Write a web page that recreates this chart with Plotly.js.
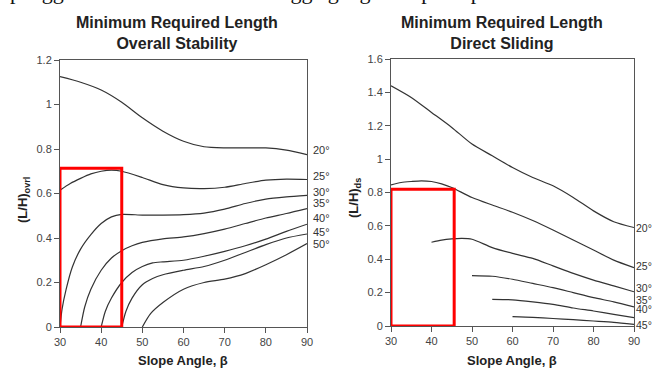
<!DOCTYPE html>
<html>
<head>
<meta charset="utf-8">
<script src="https://cdn.plot.ly/plotly-3.0.1.min.js"></script>
<style>
html,body{margin:0;padding:0;background:#fff;}
#chart{width:661px;height:372px;}
</style>
</head>
<body>
<div id="chart"></div>
<script>
// ---- Left chart: Overall Stability ----
const ovrlLabels = ["20°","25°","30°","35°","40°","45°","50°"];
const ovrlLabelY = [0.795, 0.679, 0.608, 0.556, 0.489, 0.428, 0.372];
const ovrlX20 = [30,35,40,45,50,55,60,65,70,75,80,85,90];
const ovrlY20 = [1.125,1.10,1.065,1.01,0.94,0.88,0.835,0.81,0.805,0.805,0.805,0.795,0.775];
const ovrlX25 = [30,32.5,35,37.5,40,42.5,45,50,55,60,65,70,75,80,85,90];
const ovrlY25 = [0.615,0.645,0.668,0.688,0.70,0.705,0.70,0.672,0.64,0.625,0.622,0.628,0.645,0.66,0.665,0.663];
const ovrlX30 = [30,30.5,31.5,33,35,37.5,40,42.5,45,50,55,60,65,70,75,80,85,90];
const ovrlY30 = [0,0.08,0.17,0.27,0.35,0.415,0.465,0.495,0.506,0.503,0.503,0.505,0.512,0.53,0.555,0.575,0.585,0.592];
const ovrlX35 = [35,36,37.5,40,42.5,45,47.5,50,55,60,65,70,75,80,85,90];
const ovrlY35 = [0,0.09,0.17,0.255,0.31,0.343,0.365,0.38,0.396,0.405,0.42,0.44,0.465,0.49,0.51,0.532];
const ovrlX40 = [40,41,42.5,45,47.5,50,52.5,55,60,65,70,75,80,85,90];
const ovrlY40 = [0,0.07,0.13,0.2,0.245,0.272,0.288,0.293,0.3,0.318,0.34,0.365,0.395,0.43,0.462];
const ovrlX45 = [45,46,47.5,50,52.5,55,60,65,70,75,80,85,90];
const ovrlY45 = [0,0.07,0.13,0.19,0.218,0.235,0.255,0.272,0.3,0.335,0.37,0.4,0.418];
const ovrlX50 = [50,52,55,60,65,70,75,80,85,90];
const ovrlY50 = [0,0.06,0.11,0.17,0.2,0.215,0.24,0.28,0.325,0.375];

// ---- Right chart: Direct Sliding ----
const dsLabels = ["20°","25°","30°","35°","40°","45°"];
const dsLabelY = [0.585, 0.361, 0.226, 0.158, 0.100, 0.006];
const dsX20 = [30,35,40,45,50,55,60,65,70,75,80,85,90];
const dsY20 = [1.44,1.37,1.28,1.19,1.09,1.02,0.95,0.89,0.84,0.77,0.69,0.625,0.59];
const dsX25 = [30,32.5,35,37.5,40,42.5,45,50,55,60,65,70,75,80,85,90];
const dsY25 = [0.846,0.86,0.866,0.87,0.866,0.852,0.83,0.77,0.725,0.682,0.632,0.575,0.515,0.455,0.395,0.35];
const dsX30 = [40,42.5,45,47.5,50,55,60,65,70,75,80,85,90];
const dsY30 = [0.502,0.515,0.522,0.525,0.52,0.47,0.435,0.405,0.36,0.315,0.275,0.24,0.205];
const dsX35 = [50,55,60,65,70,75,80,85,90];
const dsY35 = [0.302,0.298,0.28,0.255,0.23,0.2,0.17,0.145,0.115];
const dsX40 = [55,60,65,70,75,80,85,90];
const dsY40 = [0.16,0.157,0.145,0.13,0.108,0.09,0.07,0.05];
const dsX45 = [60,65,70,75,80,85,90];
const dsY45 = [0.056,0.052,0.045,0.038,0.03,0.022,0.01];

// Highlight boxes [x0, x1, y0, y1]
const ovrlBox = [30, 45, 0, 0.713];
const dsBox = [30, 45.6, 0, 0.82];

const W = 661, H = 372;
const lineStyle = {color: '#333', width: 1.2, shape: 'spline', smoothing: 0.7};

const ovrlSeries = [[ovrlX20,ovrlY20],[ovrlX25,ovrlY25],[ovrlX30,ovrlY30],[ovrlX35,ovrlY35],[ovrlX40,ovrlY40],[ovrlX45,ovrlY45],[ovrlX50,ovrlY50]];
const dsSeries = [[dsX20,dsY20],[dsX25,dsY25],[dsX30,dsY30],[dsX35,dsY35],[dsX40,dsY40],[dsX45,dsY45]];

const traces = [];
ovrlSeries.forEach(s => traces.push({x: s[0], y: s[1], mode: 'lines', line: lineStyle, xaxis: 'x', yaxis: 'y', hoverinfo: 'skip'}));
dsSeries.forEach(s => traces.push({x: s[0], y: s[1], mode: 'lines', line: lineStyle, xaxis: 'x2', yaxis: 'y2', hoverinfo: 'skip'}));

const tickFont = {family: 'Liberation Sans, Arial, sans-serif', size: 11, color: '#444'};
const axisCommon = {
  showgrid: false, zeroline: false, showline: true, linecolor: '#555', linewidth: 1,
  mirror: true, ticks: 'outside', ticklen: 5, tickcolor: '#555', tickfont: tickFont
};

const annFont = {family: 'Liberation Sans, Arial, sans-serif', size: 11, color: '#333'};
const titleFont = {family: 'Liberation Sans, Arial, sans-serif', size: 16, color: '#222'};
const axTitleFont = {family: 'Liberation Sans, Arial, sans-serif', size: 13, color: '#222'};

const annotations = [];
ovrlLabels.forEach((t, i) => annotations.push({x: 90, y: ovrlLabelY[i], xref: 'x', yref: 'y', text: t, showarrow: false, xanchor: 'left', xshift: 4, font: annFont}));
dsLabels.forEach((t, i) => annotations.push({x: 90, y: dsLabelY[i], xref: 'x2', yref: 'y2', text: t, showarrow: false, xanchor: 'left', xshift: 0, font: {family: annFont.family, size: 10.5, color: annFont.color}}));

annotations.push({x: 177/W, y: 1 - 33/H, xref: 'paper', yref: 'paper', text: '<b>Minimum Required Length<br>Overall Stability</b>', showarrow: false, xanchor: 'center', yanchor: 'middle', font: titleFont});
annotations.push({x: 502/W, y: 1 - 33/H, xref: 'paper', yref: 'paper', text: '<b>Minimum Required Length<br>Direct Sliding</b>', showarrow: false, xanchor: 'center', yanchor: 'middle', font: titleFont});
annotations.push({x: 183/W, y: 1 - 360/H, xref: 'paper', yref: 'paper', text: '<b>Slope Angle, β</b>', showarrow: false, xanchor: 'center', yanchor: 'middle', font: axTitleFont});
annotations.push({x: 512/W, y: 1 - 360/H, xref: 'paper', yref: 'paper', text: '<b>Slope Angle, β</b>', showarrow: false, xanchor: 'center', yanchor: 'middle', font: axTitleFont});
annotations.push({x: 23/W, y: 1 - 200/H, xref: 'paper', yref: 'paper', text: '<b>(L/H)<sub>ovrl</sub></b>', showarrow: false, textangle: -90, xanchor: 'center', yanchor: 'middle', font: axTitleFont});
annotations.push({x: 354/W, y: 1 - 198/H, xref: 'paper', yref: 'paper', text: '<b>(L/H)<sub>ds</sub></b>', showarrow: false, textangle: -90, xanchor: 'center', yanchor: 'middle', font: axTitleFont});
annotations.push({x: 8/W, y: 1 - 6/H, xref: 'paper', yref: 'paper', text: 'pengganti tanah timbunan sehingga geogrid dapat dipakai', showarrow: false, xanchor: 'left', yanchor: 'bottom', font: {family: 'Liberation Serif, Times New Roman, serif', size: 22, color: '#111'}});

const boxLine = {color: '#ff0000', width: 3};
const shapes = [
  {type: 'rect', xref: 'x', yref: 'y', x0: ovrlBox[0], x1: ovrlBox[1], y0: ovrlBox[2], y1: ovrlBox[3], line: boxLine},
  {type: 'rect', xref: 'x2', yref: 'y2', x0: dsBox[0], x1: dsBox[1], y0: dsBox[2], y1: dsBox[3], line: boxLine}
];

const layout = {
  width: W, height: H,
  margin: {l: 0, r: 0, t: 0, b: 0},
  paper_bgcolor: '#fff', plot_bgcolor: '#fff',
  showlegend: false,
  xaxis: Object.assign({}, axisCommon, {domain: [60/W, 307/W], range: [30, 90], tickvals: [30,40,50,60,70,80,90], anchor: 'y'}),
  yaxis: Object.assign({}, axisCommon, {domain: [1 - 327/H, 1 - 60/H], range: [0, 1.2], tickvals: [0,0.2,0.4,0.6,0.8,1,1.2], anchor: 'x'}),
  xaxis2: Object.assign({}, axisCommon, {domain: [391/W, 634/W], range: [30, 90], tickvals: [30,40,50,60,70,80,90], anchor: 'y2'}),
  yaxis2: Object.assign({}, axisCommon, {domain: [1 - 326/H, 1 - 59/H], range: [0, 1.6], tickvals: [0,0.2,0.4,0.6,0.8,1,1.2,1.4,1.6], anchor: 'x2'}),
  annotations: annotations,
  shapes: shapes
};

Plotly.newPlot('chart', traces, layout, {staticPlot: true, displayModeBar: false});
</script>
</body>
</html>
